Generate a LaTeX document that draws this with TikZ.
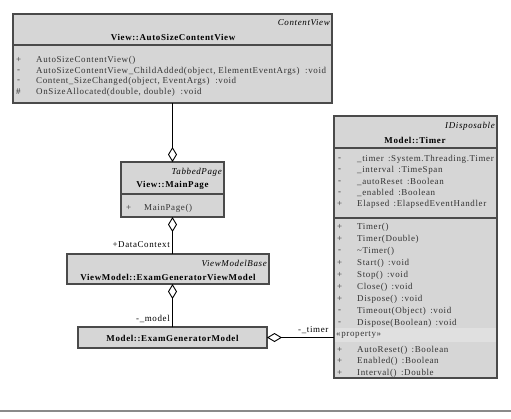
\documentclass[tikz,border=0pt]{standalone}
\usepackage{fontspec}
\setmainfont{Liberation Serif}[LetterSpace=7]
\usetikzlibrary{arrows.meta}
\definecolor{boxfill}{HTML}{D6D6D6}
\definecolor{boxline}{HTML}{4A4A4A}
\definecolor{propfill}{HTML}{E0E0E0}
\definecolor{rulegray}{HTML}{8A8A8A}
\newcommand{\gapc}{\ \,}
\begin{document}
\begin{tikzpicture}[x=1bp,y=-1bp,
  umlbox/.style={draw=boxline, fill=boxfill, line width=1.2bp, anchor=north west, inner sep=0, outer sep=0},
  sep/.style={draw=boxline, line width=1.2bp},
  txt/.style={inner sep=0, anchor=west, font=\fontsize{9}{10}\selectfont, text=black!80},
  stereo/.style={inner sep=0, anchor=east, font=\fontsize{9}{10}\selectfont\itshape},
  cname/.style={inner sep=0, font=\fontsize{9}{10}\selectfont\bfseries},
  lbl/.style={inner sep=0, font=\fontsize{9}{10}\selectfont},
  agg/.style={{Diamond[open,length=15bp,width=9bp]}-, line width=0.9bp, black}
]
\useasboundingbox (0,0) rectangle (511,418);
% bottom rule
\coordinate (rl) at (0,411);
\coordinate (rr) at (511,411);
\draw[rulegray, line width=1.5bp] (rl) -- (rr);

% AutoSizeContentView
\node[umlbox, minimum width=319bp, minimum height=89bp] (ascv) at (13,14) {};
\draw[sep] (13,45) -- (332,45);
\node[stereo] (ascvs) at (330,23) {ContentView};
\node[cname] (ascvn) at (173,37) {View::AutoSizeContentView};
\node[txt] (a1v) at (16,60) {+};
\node[txt] (a1) at (36,60) {AutoSizeContentView()};
\node[txt] (a2v) at (17,71) {-};
\node[txt] (a2) at (36,71) {AutoSizeContentView\_ChildAdded(object, ElementEventArgs)\ \ :void};
\node[txt] (a3v) at (17,81) {-};
\node[txt] (a3) at (36,81) {Content\_SizeChanged(object, EventArgs)\ \ :void};
\node[txt] (a4v) at (16,92) {\#};
\node[txt] (a4) at (36,92) {OnSizeAllocated(double, double)\ \ :void};

% MainPage
\node[umlbox, minimum width=103bp, minimum height=55bp] (mp) at (121,162) {};
\draw[sep] (121,194) -- (224,194);
\node[stereo] (mps) at (222,172) {TabbedPage};
\node[cname] (mpn) at (172.5,185) {View::MainPage};
\node[txt] (m1v) at (126,208) {+};
\node[txt] (m1) at (144,208) {MainPage()};

% ViewModel
\node[umlbox, minimum width=202bp, minimum height=30bp] (vm) at (67,254) {};
\node[stereo] (vms) at (267,263) {ViewModelBase};
\node[cname] (vmn) at (168,277) {ViewModel::ExamGeneratorViewModel};

% Model
\node[umlbox, minimum width=189bp, minimum height=21bp] (md) at (78,327) {};
\node[cname] (mdn) at (172.5,338) {Model::ExamGeneratorModel};

% Timer
\node[umlbox, minimum width=163bp, minimum height=262bp] (tm) at (334,116) {};
\fill[propfill] (335,328) rectangle (496,342);
\draw[sep] (334,148) -- (497,148);
\draw[sep] (334,218) -- (497,218);
\node[stereo] (tms) at (495,126) {IDisposable};
\node[cname] (tmn) at (415,140) {Model::Timer};
\node[txt] (t1v) at (338,159) {-};
\node[txt] (t1) at (357,159) {\_timer\gapc:System.Threading.Timer};
\node[txt] (t2v) at (338,170) {-};
\node[txt] (t2) at (357,170) {\_interval\gapc:TimeSpan};
\node[txt] (t3v) at (338,182) {-};
\node[txt] (t3) at (357,182) {\_autoReset\gapc:Boolean};
\node[txt] (t4v) at (338,193) {-};
\node[txt] (t4) at (357,193) {\_enabled\gapc:Boolean};
\node[txt] (t5v) at (337,204) {+};
\node[txt] (t5) at (357,204) {Elapsed\gapc:ElapsedEventHandler};
\node[txt] (o1v) at (337,227) {+};
\node[txt] (o1) at (357,227) {Timer()};
\node[txt] (o2v) at (337,239) {+};
\node[txt] (o2) at (357,239) {Timer(Double)};
\node[txt] (o3v) at (338,251) {-};
\node[txt] (o3) at (357,251) {\textasciitilde Timer()};
\node[txt] (o4v) at (337,263) {+};
\node[txt] (o4) at (357,263) {Start()\gapc:void};
\node[txt] (o5v) at (337,275) {+};
\node[txt] (o5) at (357,275) {Stop()\gapc:void};
\node[txt] (o6v) at (337,287) {+};
\node[txt] (o6) at (357,287) {Close()\gapc:void};
\node[txt] (o7v) at (337,299) {+};
\node[txt] (o7) at (357,299) {Dispose()\gapc:void};
\node[txt] (o8v) at (338,311) {-};
\node[txt] (o8) at (357,311) {Timeout(Object)\gapc:void};
\node[txt] (o9v) at (338,323) {-};
\node[txt] (o9) at (357,323) {Dispose(Boolean)\gapc:void};
\node[txt] (pp) at (336,335) {«property»};
\node[txt] (p1v) at (337,350) {+};
\node[txt] (p1) at (357,350) {AutoReset()\gapc:Boolean};
\node[txt] (p2v) at (337,361) {+};
\node[txt] (p2) at (357,361) {Enabled()\gapc:Boolean};
\node[txt] (p3v) at (337,373) {+};
\node[txt] (p3) at (357,373) {Interval()\gapc:Double};

% connectors
\draw[agg] (mp.north) -- (ascv.south);
\draw[agg] (mp.south) -- (mp.south |- vm.north);
\draw[agg] (mp.south |- vm.south) -- (md.north);
\draw[agg] (md.east) -- (md.east -| tm.west);

% role labels
\node[lbl, anchor=east] (l1) at (170,245) {+DataContext};
\node[lbl, anchor=east] (l2) at (170,319) {-\_model};
\node[lbl, anchor=west] (l3) at (298,330) {-\_timer};
\end{tikzpicture}
\end{document}
